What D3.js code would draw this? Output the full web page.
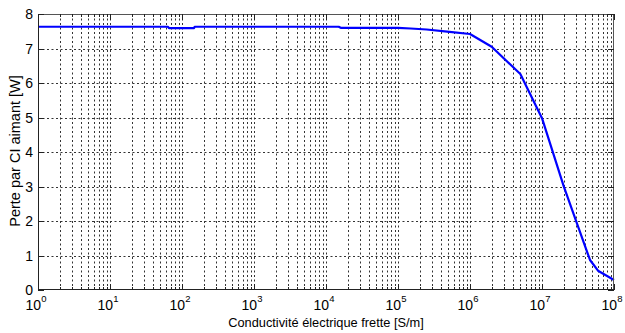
<!DOCTYPE html>
<html><head><meta charset="utf-8">
<script src="https://cdn.jsdelivr.net/npm/d3@7"></script>
<style>body{margin:0;background:#fff}svg{display:block}text{font-family:"Liberation Sans",Arial,sans-serif;fill:#000}</style>
</head><body>
<script>
const conductivity = [1, 64, 66, 147, 150, 1.5e4, 1.6e4, 1e5, 1.5e5, 2.5e5, 5.2e5, 1e6, 2e6, 5e6, 1e7, 2e7, 4.64e7, 6e7, 1e8];
const perte =        [7.63, 7.63, 7.59, 7.59, 7.63, 7.63, 7.60, 7.60, 7.58, 7.55, 7.48, 7.42, 7.05, 6.26, 4.98, 3.01, 0.87, 0.56, 0.29];
const xTickExps = [0,1,2,3,4,5,6,7,8];
const yTicks = [0,1,2,3,4,5,6,7,8];
const xLabel = "Conductivité électrique frette [S/m]";
const yLabel = "Perte par CI aimant [W]";

const W=625,H=333, L=38, R=614, T=14, B=290;
const svg=d3.select("body").append("svg").attr("width",W).attr("height",H);
const x=d3.scaleLog().domain([1,1e8]).range([L,R]);
const y=d3.scaleLinear().domain([0,8]).range([B,T]);

const minor=[];
for(let e=0;e<8;e++) for(let k=2;k<=9;k++) minor.push(k*Math.pow(10,e));
const majors=xTickExps.map(e=>Math.pow(10,e));

const g=svg.append("g");
// grid
g.selectAll(".vg").data(majors.concat(minor).filter(v=>v>1&&v<1e8)).enter().append("line")
 .attr("x1",d=>Math.round(x(d))+0.5).attr("x2",d=>Math.round(x(d))+0.5).attr("y1",T).attr("y2",B)
 .attr("stroke","#333").attr("stroke-width",1).attr("stroke-dasharray","2,2.5");
g.selectAll(".hg").data(yTicks.filter(v=>v>0&&v<8)).enter().append("line")
 .attr("x1",L).attr("x2",R).attr("y1",d=>Math.round(y(d))+0.5).attr("y2",d=>Math.round(y(d))+0.5)
 .attr("stroke","#333").attr("stroke-width",1).attr("stroke-dasharray","2,2.5");

// data line
const line=d3.line().x((d,i)=>x(conductivity[i])).y(d=>y(d));
g.append("path").datum(perte).attr("d",line).attr("fill","none").attr("stroke","#0000ff").attr("stroke-width",2.2).attr("stroke-linejoin","round");

// box
g.append("rect").attr("x",L+0.5).attr("y",T+0.5).attr("width",R-L-1).attr("height",B-T-1).attr("fill","none").attr("stroke","#555").attr("stroke-width",1);
g.append("line").attr("x1",L+0.5).attr("x2",L+0.5).attr("y1",T).attr("y2",B+0.5).attr("stroke","#222");
g.append("line").attr("x1",L).attr("x2",R).attr("y1",B-0.5).attr("y2",B-0.5).attr("stroke","#222");

// ticks (inside, both sides)
const tk=g.append("g").attr("stroke","#222").attr("stroke-width",1);
majors.forEach(v=>{const xx=Math.round(x(v))+0.5;
  tk.append("line").attr("x1",xx).attr("x2",xx).attr("y1",B).attr("y2",B-6);
  tk.append("line").attr("x1",xx).attr("x2",xx).attr("y1",T).attr("y2",T+6);});
minor.forEach(v=>{const xx=Math.round(x(v))+0.5;
  tk.append("line").attr("x1",xx).attr("x2",xx).attr("y1",B).attr("y2",B-3);
  tk.append("line").attr("x1",xx).attr("x2",xx).attr("y1",T).attr("y2",T+3);});
yTicks.forEach(v=>{const yy=Math.round(y(v))+0.5;
  tk.append("line").attr("x1",L).attr("x2",L+6).attr("y1",yy).attr("y2",yy);
  tk.append("line").attr("x1",R).attr("x2",R-6).attr("y1",yy).attr("y2",yy);});

// y tick labels
svg.selectAll(".yl").data(yTicks).enter().append("text")
 .attr("x",L-5).attr("y",d=>y(d)+5).attr("text-anchor","end").attr("font-size",14).text(d=>d);

// x tick labels 10^e
xTickExps.forEach(e=>{
  const t=svg.append("text").attr("x",x(Math.pow(10,e))-2).attr("y",310).attr("text-anchor","middle").attr("font-size",14);
  t.append("tspan").text("10");
  t.append("tspan").attr("dy",-8).attr("font-size",9.5).text(e);
});

svg.append("text").attr("x",(L+R)/2).attr("y",327).attr("text-anchor","middle").attr("font-size",12.8).text(xLabel);
svg.append("text").attr("transform",`translate(20,${(T+B)/2-1}) rotate(-90)`).attr("text-anchor","middle").attr("font-size",14.5).text(yLabel);
</script>
</body></html>
